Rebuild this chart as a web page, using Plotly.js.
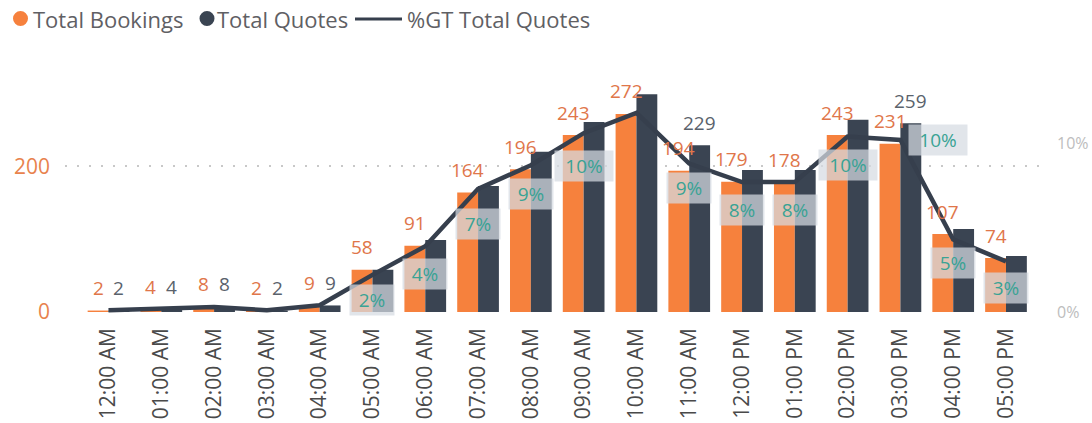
<!DOCTYPE html>
<html>
<head>
<meta charset="utf-8">
<script src="https://cdn.plot.ly/plotly-3.0.1.min.js"></script>
<style>
html,body{margin:0;padding:0;background:#fff;overflow:hidden}
#chart{width:1092px;height:423px}
</style>
</head>
<body>
<div id="chart"></div>
<script>
// ---- data ----
const hours = ['12:00 AM','01:00 AM','02:00 AM','03:00 AM','04:00 AM','05:00 AM','06:00 AM','07:00 AM','08:00 AM','09:00 AM','10:00 AM','11:00 AM','12:00 PM','01:00 PM','02:00 PM','03:00 PM','04:00 PM','05:00 PM'];
const totalBookings = [2,4,8,2,9,58,91,164,196,243,272,194,179,178,243,231,107,74];
const totalQuotes = [2,4,8,2,9,58,99,173,220,261,299,229,195,195,264,259,114,77];
const pctGTQuotes = [0.1,0.2,0.3,0.1,0.4,2.2,3.9,7.3,8.7,10.6,11.8,8.8,7.7,7.7,10.4,10.2,4.3,3.0];
const bookingLabels = ['2','4','8','2','9','58','91','164','196','243','272','194','179','178','243','231','107','74'];
const quoteLabels = ['2','4','8','2','9','','','','','','','229','','','','259','',''];
const pctLabels = ['','','','','','2%','4%','7%','9%','10%','','9%','8%','8%','10%','10%','5%','3%'];
const leftTicks = [0,200];
const leftTickText = ['0','200'];
const rightTicks = [0,10];
const rightTickText = ['0%','10%'];
const seriesNames = ['Total Bookings','Total Quotes','%GT Total Quotes'];

// ---- style ----
const FONT = 'Open Sans, Noto Sans, sans-serif';
const ORANGE = '#F6813D';
const DARK = '#3A4452';
const M = {l:65, r:52, t:79, b:110};
const W = 1092, H = 423;
const plotW = W - M.l - M.r, plotH = H - M.t - M.b;
const px = X => (X - M.l) / plotW;
const py = Y => (H - M.b - Y) / plotH;
const barOffset = 10.4;
const labelLift = 22.5;
// nudges for percentage labels (pixels)
const pctNudge = {
  '05:00 AM':{dx:0,dy:-25}, '06:00 AM':{dx:0,dy:-28}, '07:00 AM':{dx:0,dy:-35},
  '08:00 AM':{dx:0,dy:-29}, '09:00 AM':{dx:0,dy:-33}, '11:00 AM':{dx:0,dy:-24},
  '12:00 PM':{dx:0,dy:-28}, '01:00 PM':{dx:0,dy:-28}, '02:00 PM':{dx:0,dy:-28},
  '03:00 PM':{dx:38,dy:0}, '04:00 PM':{dx:0,dy:-24}, '05:00 PM':{dx:0,dy:-27}
};

const traces = [
  {type:'bar', x:hours, y:totalBookings, name:seriesNames[0], marker:{color:ORANGE}, showlegend:false},
  {type:'bar', x:hours, y:totalQuotes, name:seriesNames[1], marker:{color:DARK}, showlegend:false},
  {type:'scatter', mode:'lines', x:hours, y:pctGTQuotes, name:seriesNames[2], yaxis:'y2',
   line:{color:'#363F4D', width:4.5}, showlegend:false}
];

const annotations = [];
hours.forEach((h,i)=>{
  if (bookingLabels[i]) annotations.push({x:h, y:totalBookings[i], xref:'x', yref:'y', text:bookingLabels[i],
    showarrow:false, xshift:-barOffset, yshift:labelLift, yanchor:'middle',
    font:{family:FONT, size:19, color:'#E0764A'}});
  if (quoteLabels[i]) annotations.push({x:h, y:totalQuotes[i], xref:'x', yref:'y', text:quoteLabels[i],
    showarrow:false, xshift:barOffset, yshift:labelLift, yanchor:'middle',
    font:{family:FONT, size:19, color:'#5A626C'}});
  if (pctLabels[i]) {
    const n = pctNudge[h] || {dx:0, dy:-27};
    annotations.push({x:h, y:pctGTQuotes[i], xref:'x', yref:'y2', text:pctLabels[i],
      showarrow:false, xshift:n.dx, yshift:n.dy, yanchor:'middle',
      width: pctLabels[i].length > 2 ? 58 : 44, height:30, borderpad:0,
      bgcolor:'rgba(214,219,226,0.72)',
      font:{family:FONT, size:19, color:'#3AA394'}});
  }
});

// legend (drawn manually to match Power BI look)
const legendFont = {family:FONT, size:22, color:'#5F6064'};
annotations.push({xref:'paper', yref:'paper', x:px(31), y:py(19), xanchor:'left', yanchor:'middle', text:seriesNames[0], showarrow:false, font:legendFont});
annotations.push({xref:'paper', yref:'paper', x:px(215), y:py(19), xanchor:'left', yanchor:'middle', text:seriesNames[1], showarrow:false, font:legendFont});
annotations.push({xref:'paper', yref:'paper', x:px(405), y:py(19), xanchor:'left', yanchor:'middle', text:seriesNames[2], showarrow:false, font:legendFont});
const shapes = [
  {type:'circle', xref:'paper', yref:'paper', xsizemode:'pixel', ysizemode:'pixel', xanchor:px(20.5), yanchor:py(18.5),
   x0:-7.5, x1:7.5, y0:-7.5, y1:7.5, fillcolor:ORANGE, line:{width:0}},
  {type:'circle', xref:'paper', yref:'paper', xsizemode:'pixel', ysizemode:'pixel', xanchor:px(207), yanchor:py(18.5),
   x0:-7.5, x1:7.5, y0:-7.5, y1:7.5, fillcolor:DARK, line:{width:0}},
  {type:'line', xref:'paper', yref:'paper', x0:px(355), x1:px(402), y0:py(19), y1:py(19), line:{color:'#363F4D', width:3}}
];

const layout = {
  width:W, height:H, margin:M,
  paper_bgcolor:'#fff', plot_bgcolor:'#fff',
  barmode:'group', bargap:0.21, bargroupgap:0,
  showlegend:false,
  font:{family:FONT},
  xaxis:{type:'category', range:[-0.824, 17.644], tickangle:-90, showgrid:false, zeroline:false, showline:false,
    ticks:'', ticklabelstandoff:10, tickfont:{family:FONT, size:21, color:'#4A4A4A'}},
  yaxis:{range:[-1.37, 319.9], tickvals:leftTicks, ticktext:leftTickText, showgrid:true, gridcolor:'#C8C8C8',
    gridwidth:2, griddash:'2px,10px', zeroline:false, showline:false, ticks:'', ticklabelstandoff:14,
    tickfont:{family:FONT, size:21, color:'#E8834D'}},
  yaxis2:{overlaying:'y', side:'right', range:[-0.06, 13.81], tickvals:rightTicks, ticktext:rightTickText,
    showgrid:false, zeroline:false, showline:false, ticks:'', ticklabelstandoff:16,
    tickfont:{family:FONT, size:16, color:'#BDBDBD'}},
  annotations:annotations,
  shapes:shapes
};

Plotly.newPlot('chart', traces, layout, {staticPlot:true, displayModeBar:false});
</script>
</body>
</html>
